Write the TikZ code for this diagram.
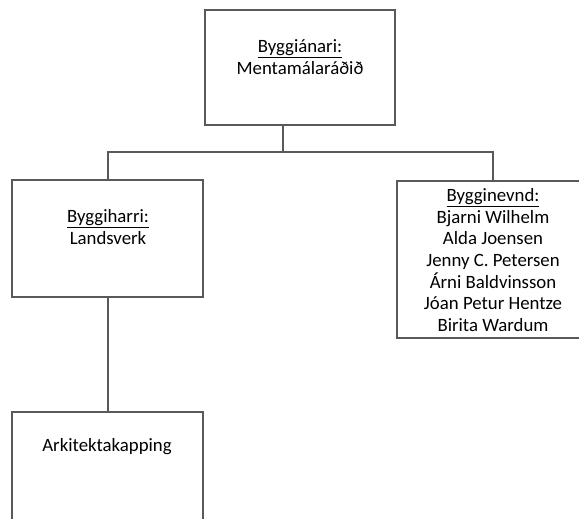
\documentclass[tikz,border=0pt]{standalone}
\usepackage{fontspec}
\setmainfont{Carlito}
\definecolor{linegray}{RGB}{89,89,89}

\begin{document}
\begin{tikzpicture}[x=1pt, y=-1pt,
orgbox/.style={draw=linegray, line width=2pt, inner sep=0pt, minimum width=191pt},
orgtext/.style={align=center, inner sep=0pt, font=\fontsize{18.8}{21.7}\selectfont},
conn/.style={draw=linegray, line width=2pt}]

\def\boxh{117}

\path[clip] (0,0) rectangle (579,519);

% Boxes
\node[orgbox, minimum width=190pt, minimum height=115pt] (top) at (300,67.5) {};
\node[orgbox, minimum height=\boxh pt] (left) at (107.5,238.5) {};
\node[orgbox, minimum width=192pt, minimum height=157pt] (right) at (493,259.5) {};
\node[orgbox, minimum height=\boxh pt] (arch) at (107.5,470) {};

% Texts
\node[orgtext] (toptxt) at (300,57) {\underline{Byggiánari:}\\Mentamálaráðið};
\node[orgtext] (lefttxt) at (108,227) {\underline{Byggiharri:}\\Landsverk};
\node[orgtext] (righttxt) at (493,260) {\underline{Bygginevnd:}\\Bjarni Wilhelm\\Alda Joensen\\Jenny C. Petersen\\Árni Baldvinsson\\Jóan Petur Hentze\\Birita Wardum};
\node[orgtext] (archtxt) at (107,447) {Arkitektakapping};

% Lines
\coordinate (split) at (283,152);
\draw[conn] (top.south -| split) -- (split);
\draw[conn] (left.north) |- (split) -| (right.north);
\draw[conn] (left.south) -- (arch.north);

\end{tikzpicture}
\end{document}
